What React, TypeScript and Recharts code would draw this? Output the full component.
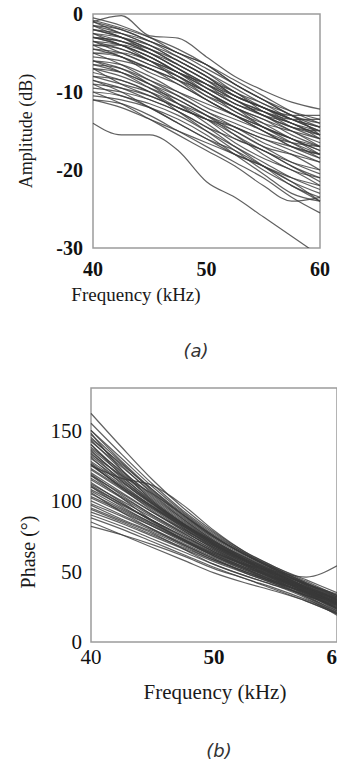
import React from 'react';
import { LineChart, Line, XAxis, YAxis, ReferenceArea } from 'recharts';

// frequency samples (kHz) shared by both panels
const freqs = [40, 42.5, 45, 47.5, 50, 52.5, 55, 57.5, 60];
const freqTicks = [40, 50, 60];
const ampTicks = [-30, -20, -10, 0];
const phaseTicks = [0, 50, 100, 150];

// amplitude (dB) per measured curve, read at the freqs above
const ampCurves: number[][] = [
  [-1, -0.2, -2.8, -3.1, -5.5, -8, -9.8, -11.3, -12.2],
  [-0.5, -1.5, -3, -5, -6.5, -9, -11, -13, -14],
  [-1, -2, -3.5, -5.5, -7.5, -10, -11.5, -13.5, -15],
  [-1.5, -2.5, -4, -6, -8, -10.5, -12, -14, -15.5],
  [-2, -3, -4.5, -6.5, -8.5, -10, -12.5, -14, -15],
  [-2.5, -3.5, -5, -7, -9, -11, -12.5, -14.5, -16],
  [-3, -3.5, -5, -7, -9.5, -11.5, -13, -15, -16.5],
  [-3.5, -4, -5.5, -7.5, -9.5, -11, -13, -14.5, -15.5],
  [-4, -4.5, -6, -7.5, -9, -11, -13, -14.5, -15],
  [-4.5, -5, -6.5, -8, -10, -12, -13.5, -15, -17],
  [-2, -3, -5, -7, -9, -11.5, -12.5, -13.5, -13.5],
  [-3, -4, -5.5, -7.5, -10, -12, -13.5, -15.5, -17],
  [-1.5, -3, -4.5, -6.5, -8.5, -11, -12.5, -14, -15.5],
  [-5, -5.5, -7, -8.5, -10.5, -12, -14, -16, -17.5],
  [-4, -5.5, -7, -8.5, -10, -12.5, -14, -15, -16],
  [-2.5, -4, -5.5, -7.5, -9, -10.5, -12, -13.5, -14.5],
  [-3.5, -5, -6.5, -8, -10, -12, -14.5, -16, -17],
  [-1, -2.5, -4, -6, -8, -10.5, -12, -13, -13],
  [-4.5, -5.5, -7.5, -9, -11, -13, -14.5, -16, -18],
  [-5.5, -6, -7, -9, -11, -13, -15, -16.5, -18],
  [-6, -6.5, -8, -10, -12, -13.5, -15, -17, -18.5],
  [-6.5, -7.5, -9, -10.5, -12.5, -14.5, -16, -17.5, -19],
  [-7, -8, -9.5, -11, -13, -14.5, -16.5, -18, -20],
  [-7.5, -8.5, -10, -12, -13.5, -15, -17, -19, -20.5],
  [-8, -9, -10, -11.5, -13, -15, -17, -18, -19],
  [-6, -7.5, -9.5, -11.5, -13.5, -16, -17.5, -19.5, -21.5],
  [-8.5, -9.5, -11, -12.5, -14.5, -16, -17.5, -19.5, -21],
  [-9, -10.5, -11.5, -13, -15, -17, -19, -21, -22.5],
  [-7, -9, -10.5, -12, -13.5, -14.5, -16, -17, -18],
  [-5, -6.5, -8.5, -10.5, -12.5, -14, -15.5, -16.5, -17],
  [-10, -10.5, -12, -14, -16, -17.5, -19.5, -21.5, -23],
  [-9.5, -10, -11, -12.5, -14.5, -17, -19.5, -22, -23.5],
  [-10.5, -11, -12, -13.5, -15.5, -18, -20.5, -23, -24],
  [-8, -8.5, -10, -12.5, -15, -17.5, -20, -22, -24],
  [-11, -11.5, -13, -15, -17, -19, -21, -23.5, -25.5],
  [-10, -11.5, -13.5, -15.5, -17.5, -19.5, -22, -24, -23.5],
  [-14, -15.5, -15.5, -17.5, -21.5, -23.5, -26, -28.5, -31],
  [-8.5, -10, -12, -14, -16, -18, -19.5, -21, -22],
  [-6.5, -7, -8.5, -10, -11.5, -13, -14.5, -16, -17.5],
  [-3, -4, -6, -8, -10.5, -12.5, -14.5, -16.5, -18.5],
  [-1.5, -2, -3.5, -5, -7, -9, -11, -13, -14.5],
  [-2, -2.5, -3.5, -5, -6.5, -8.5, -10.5, -12.5, -14],
  [-0.8, -1.8, -3, -4.5, -6.5, -9, -11, -12.5, -13.5],
  [-3, -3.5, -4.5, -6, -8, -10, -12, -13.5, -14.5],
  [-4, -4, -5, -6.5, -8.5, -10.5, -12, -13.5, -15],
  [-2.5, -3, -4, -5.5, -7.5, -9.5, -11.5, -13, -15.5],
  [-5, -5, -6, -7.5, -9.5, -11.5, -13, -14, -16],
  [-3.5, -4.5, -6, -8.5, -11, -13, -15, -17, -18],
  [-7, -7.5, -9, -11, -13, -15.5, -18, -20, -21],
  [-9, -9.5, -10.5, -12, -13.5, -15.5, -17.5, -19, -20],
  [-6, -7, -9, -11.5, -14, -16.5, -18.5, -20, -22],
  [-11, -12, -13.5, -15, -16.5, -18, -19.5, -21.5, -24],
];

// phase (degrees) per measured curve, read at the freqs above
const phaseCurves: number[][] = [
  [162, 138, 115, 95, 78, 64, 53, 43, 33],
  [155, 133, 112, 93, 77, 63, 52, 42, 32],
  [150, 130, 110, 92, 76, 63, 52, 41, 30],
  [147, 127, 107, 90, 74, 62, 51, 40, 29],
  [145, 125, 105, 88, 73, 61, 50, 39, 28],
  [142, 124, 106, 89, 74, 62, 52, 42, 33],
  [140, 120, 102, 86, 71, 59, 49, 38, 27],
  [138, 121, 104, 87, 72, 60, 50, 41, 31],
  [135, 117, 100, 84, 70, 58, 48, 37, 26],
  [133, 118, 105, 90, 75, 62, 51, 40, 30],
  [130, 114, 98, 83, 69, 58, 48, 38, 28],
  [125, 116, 111, 97, 79, 64, 53, 44, 35],
  [127, 111, 96, 82, 69, 58, 48, 39, 29],
  [125, 110, 95, 81, 68, 57, 47, 37, 27],
  [122, 108, 94, 80, 67, 56, 46, 36, 25],
  [120, 106, 92, 79, 66, 55, 45, 35, 24],
  [118, 105, 92, 80, 68, 57, 47, 38, 30],
  [115, 102, 89, 77, 65, 54, 44, 34, 22],
  [112, 100, 88, 76, 64, 54, 45, 36, 27],
  [110, 98, 86, 74, 63, 53, 44, 33, 21],
  [108, 97, 86, 75, 64, 55, 46, 38, 31],
  [105, 94, 83, 72, 61, 51, 42, 32, 20],
  [103, 93, 82, 71, 61, 52, 44, 36, 29],
  [100, 90, 80, 70, 60, 51, 43, 34, 24],
  [98, 89, 79, 69, 59, 49, 41, 32, 22],
  [95, 86, 77, 66, 55, 47, 40, 31, 19],
  [92, 84, 75, 66, 57, 49, 41, 33, 26],
  [90, 82, 73, 64, 55, 47, 40, 33, 25],
  [88, 80, 71, 62, 53, 45, 38, 30, 21],
  [82, 76, 69, 61, 52, 45, 37, 29, 20],
  [110, 96, 84, 73, 63, 55, 50, 46, 54],
  [148, 122, 100, 84, 70, 58, 47, 36, 24],
  [136, 116, 98, 82, 68, 56, 46, 35, 23],
  [118, 102, 86, 73, 62, 53, 45, 37, 28],
  [113, 99, 85, 72, 61, 52, 43, 35, 26],
  [106, 92, 80, 69, 59, 50, 42, 35, 27],
  [126, 109, 93, 79, 66, 55, 45, 35, 24],
  [144, 126, 108, 91, 75, 62, 51, 41, 32],
  [131, 112, 96, 81, 67, 56, 47, 37, 27],
  [97, 87, 78, 68, 58, 50, 42, 35, 28],
  [85, 76, 67, 58, 49, 42, 36, 29, 20],
  [150, 128, 108, 90, 75, 62, 51, 40, 30],
  [143, 122, 103, 87, 72, 60, 49, 38, 28],
  [137, 119, 101, 85, 71, 59, 49, 39, 29],
  [132, 115, 99, 84, 70, 58, 48, 38, 28],
  [128, 113, 98, 84, 71, 59, 49, 39, 30],
  [123, 109, 95, 82, 69, 58, 48, 39, 31],
  [119, 104, 90, 77, 65, 55, 46, 37, 27],
  [116, 103, 90, 78, 67, 57, 48, 39, 32],
  [111, 98, 86, 75, 64, 54, 45, 36, 26],
  [107, 95, 84, 73, 62, 52, 43, 34, 23],
  [102, 92, 82, 72, 62, 53, 45, 36, 27],
  [94, 85, 76, 67, 58, 50, 42, 33, 24],
  [140, 118, 99, 83, 69, 57, 47, 37, 26],
  [134, 114, 97, 83, 70, 59, 49, 41, 34],
  [126, 110, 96, 83, 71, 60, 50, 41, 33],
];

const buildRows = (curves: number[][]) =>
  freqs.map((f, i) => {
    const row: Record<string, number> = { f };
    curves.forEach((c, k) => {
      row[`c${k}`] = c[i];
    });
    return row;
  });

const ampRows = buildRows(ampCurves);
const phaseRows = buildRows(phaseCurves);

const SERIF = '"Liberation Serif", "DejaVu Serif", serif';
const LINE = '#3a3a3a';
const FRAME = '#9c9c9c';

const FreqTickB = ({ x, y, payload }: any) => (
  <text
    x={x}
    y={y}
    dy={14}
    textAnchor="middle"
    fontFamily={SERIF}
    fontSize={21}
    fontWeight={payload.value === 40 ? 'normal' : 'bold'}
    fill="#111"
  >
    {payload.value}
  </text>
);

const Caption = ({ text, x, y }: { text: string; x: number; y: number }) => (
  <div
    style={{
      position: 'absolute',
      left: x,
      top: y,
      transform: 'translate(-50%, -50%)',
      fontFamily: '"DejaVu Sans", sans-serif',
      fontStyle: 'italic',
      fontSize: 18,
      color: '#333',
    }}
  >
    {text}
  </div>
);

const AxisTitle = ({ text, x, y, size, rotate }: { text: string; x: number; y: number; size: number; rotate?: boolean }) => (
  <div
    style={{
      position: 'absolute',
      left: x,
      top: y,
      transform: `translate(-50%, -50%)${rotate ? ' rotate(-90deg)' : ''}`,
      fontFamily: SERIF,
      fontSize: size,
      whiteSpace: 'nowrap',
      color: '#1a1a1a',
    }}
  >
    {text}
  </div>
);

export default function App() {
  return (
    <div style={{ position: 'absolute', left: 0, top: 0, width: 337, height: 767, overflow: 'hidden', background: '#fff' }}>
      {/* (a) amplitude */}
      <div style={{ position: 'absolute', left: 0, top: 0 }}>
        <LineChart width={337} height={320} data={ampRows} margin={{ top: 14, right: 17, bottom: 22, left: 0 }}>
          <XAxis
            dataKey="f"
            type="number"
            domain={[40, 60]}
            ticks={freqTicks}
            axisLine={false}
            tickLine={false}
            height={50}
            tick={{ fontFamily: SERIF, fontSize: 20, fontWeight: 'bold', fill: '#111' }}
            dy={6}
          />
          <YAxis
            type="number"
            domain={[-30, 0]}
            ticks={ampTicks}
            allowDataOverflow
            axisLine={false}
            tickLine={false}
            width={93}
            tick={{ fontFamily: SERIF, fontSize: 20, fontWeight: 'bold', fill: '#111' }}
            dx={-2}
          />
          <ReferenceArea x1={40} x2={60} y1={-30} y2={0} fill="none" stroke={FRAME} strokeWidth={1.5} />
          {ampCurves.map((_, k) => (
            <Line
              key={k}
              dataKey={`c${k}`}
              type="monotone"
              stroke={LINE}
              strokeOpacity={0.8}
              strokeWidth={1.2}
              dot={false}
              isAnimationActive={false}
            />
          ))}
        </LineChart>
      </div>
      <AxisTitle text="Amplitude (dB)" x={26} y={131} size={18} rotate />
      <AxisTitle text="Frequency (kHz)" x={136} y={295} size={19} />
      <Caption text="(a)" x={196} y={350} />

      {/* (b) phase */}
      <div style={{ position: 'absolute', left: 0, top: 380 }}>
        <LineChart width={360} height={320} data={phaseRows} margin={{ top: 8, right: 23, bottom: 8, left: 0 }}>
          <XAxis
            dataKey="f"
            type="number"
            domain={[40, 60]}
            ticks={freqTicks}
            axisLine={false}
            tickLine={false}
            height={50}
            tick={<FreqTickB />}
          />
          <YAxis
            type="number"
            domain={[0, 180]}
            ticks={phaseTicks}
            axisLine={false}
            tickLine={false}
            width={91}
            tick={{ fontFamily: SERIF, fontSize: 21, fill: '#111' }}
            dx={-1}
          />
          <ReferenceArea x1={40} x2={60} y1={0} y2={180} fill="none" stroke={FRAME} strokeWidth={1.5} />
          {phaseCurves.map((_, k) => (
            <Line
              key={k}
              dataKey={`c${k}`}
              type="monotone"
              stroke={LINE}
              strokeOpacity={0.8}
              strokeWidth={1.2}
              dot={false}
              isAnimationActive={false}
            />
          ))}
        </LineChart>
      </div>
      <AxisTitle text="Phase (°)" x={28} y={552} size={20} rotate />
      <AxisTitle text="Frequency (kHz)" x={215} y={692} size={21} />
      <Caption text="(b)" x={219} y={750} />
    </div>
  );
}
